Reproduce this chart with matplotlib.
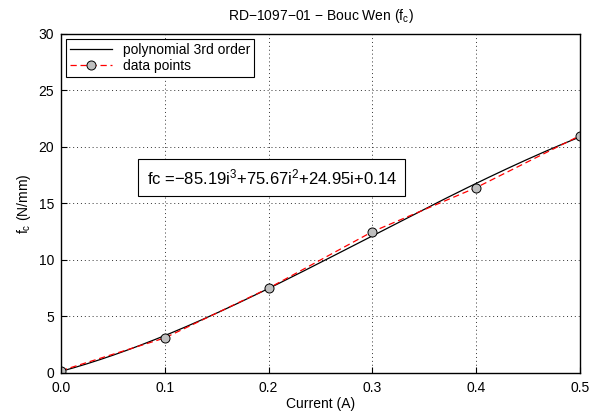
import numpy as np
import matplotlib
matplotlib.use("Agg")
import matplotlib.pyplot as plt

plt.rcParams['font.family'] = ['Liberation Sans', 'DejaVu Sans']
plt.rcParams['mathtext.fontset'] = 'custom'
plt.rcParams['mathtext.rm'] = 'Liberation Sans'
plt.rcParams['mathtext.it'] = 'Liberation Sans'

# measured data
current = [0.0, 0.1, 0.2, 0.3, 0.4, 0.5]
fc_data = [0.2, 3.1, 7.5, 12.5, 16.4, 21.0]

# fitted polynomial coefficients (from the label)
coeffs = [-85.19, 75.67, 24.95, 0.14]
fit_text = "fc =\u221285.19i$^3$+75.67i$^2$+24.95i+0.14"

x_ticks = [0.0, 0.1, 0.2, 0.3, 0.4, 0.5]
x_ticklabels = ["0.0", "0.1", "0.2", "0.3", "0.4", "0.5"]
y_ticks = [0, 5, 10, 15, 20, 25, 30]

fig = plt.figure(figsize=(5.98, 4.13), dpi=100)
ax = fig.add_axes([0.102, 0.097, 0.868, 0.821])

xs = np.linspace(current[0], current[-1], 200)
ax.plot(xs, np.polyval(coeffs, xs), color="black", lw=0.9,
        label="polynomial 3rd order")
ax.plot(current, fc_data, color="red", ls="--", dashes=(5, 3), lw=0.9,
        marker="o", markersize=6.5, markerfacecolor="#bfbfbf",
        markeredgecolor="black", markeredgewidth=0.7, label="data points")

ax.set_xlim(0, 0.5)
ax.set_ylim(0, 30)
ax.set_xticks(x_ticks)
ax.set_xticklabels(x_ticklabels)
ax.set_yticks(y_ticks)
ax.tick_params(direction="in", labelsize=10, length=4)
ax.tick_params(axis="x", pad=6)
ax.tick_params(axis="y", pad=5)
ax.grid(True, color="#333333", ls=(0, (1, 3)), lw=0.7)
for sp in ax.spines.values():
    sp.set_linewidth(1.0)

ax.set_xlabel("Current (A)", fontsize=10, labelpad=1)
ax.set_ylabel("f$_c$ (N/mm)", fontsize=10, labelpad=4)
ax.set_title("RD\u22121097\u221201 \u2212 Bouc Wen (f$_c$)", fontsize=10, pad=10)

ax.text(0.203, 17.3, fit_text, fontsize=12, ha="center", va="center",
        bbox=dict(boxstyle="square,pad=0.5", facecolor="white",
                  edgecolor="black", lw=0.8))

leg = ax.legend(loc="upper left", fontsize=10, fancybox=False,
                edgecolor="black", framealpha=1, borderpad=0.3,
                handlelength=3.0, labelspacing=0.15, borderaxespad=0.35)
leg.get_frame().set_linewidth(0.8)

fig.savefig("out.png", dpi=100)
